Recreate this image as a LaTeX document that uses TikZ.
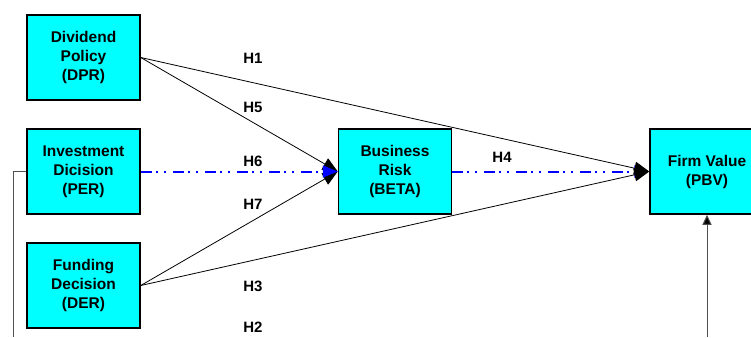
\documentclass[tikz,border=0pt]{standalone}
\usepackage{fontspec}
\setmainfont{Liberation Sans}
\usetikzlibrary{arrows.meta}
\definecolor{boxcyan}{RGB}{0,255,255}
\definecolor{linkblue}{RGB}{0,0,255}
\definecolor{sidegray}{RGB}{80,80,80}
\tikzset{
  varbox/.style={draw=black, line width=1.5pt, fill=boxcyan, minimum width=113pt, minimum height=85pt,
    inner sep=0pt, align=center, font=\fontsize{15.5}{19}\selectfont\bfseries},
  hlabel/.style={font=\fontsize{15}{18}\selectfont\bfseries, inner sep=0pt},
  blacklink/.style={draw=black, line width=0.8pt, -{Triangle[length=15pt,width=13pt]}},
  bluelink/.style={color=linkblue, line width=2pt, dash pattern=on 11pt off 4pt on 2pt off 6pt on 2pt off 7pt,
    -{Triangle[length=15pt,width=12pt,fill=linkblue]}},
  graylink/.style={draw=sidegray, line width=1pt}
}
\begin{document}
\begin{tikzpicture}[x=1pt,y=-1pt]
\useasboundingbox (0,0) rectangle (751,337);
\node[varbox] (dpr) at (83.5,57.5) {Dividend\\Policy\\(DPR)};
\node[varbox] (per) at (83.5,171.5) {Investment\\Dicision\\(PER)};
\node[varbox] (der) at (83.5,285.5) {Funding\\Decision\\(DER)};
\node[varbox] (beta) at (395,171.5) {Business\\Risk\\(BETA)};
\node[varbox, minimum width=114pt] (pbv) at (707,171.5) {Firm Value\\(PBV)};

\node[hlabel] (h1) at (253,58) {H1};
\node[hlabel] (h5) at (253,107) {H5};
\node[hlabel] (h6) at (253,161) {H6};
\node[hlabel] (h7) at (253,204) {H7};
\node[hlabel] (h3) at (253,286) {H3};
\node[hlabel] (h2) at (253,327) {H2};
\node[hlabel] (h4) at (502,157) {H4};

\coordinate (gcorner) at (13,171.5);
\coordinate (gbottom) at (13,337);
\coordinate (pbvbottom) at (707,337);

\draw[bluelink] (beta.east) -- (pbv.west);
\draw[blacklink] (dpr.east) -- (pbv.west);
\draw[blacklink] (der.east) -- (pbv.west);
\draw[blacklink] (dpr.east) -- (beta.west);
\draw[blacklink] (der.east) -- (beta.west);
\draw[bluelink] (per.east) -- (beta.west);

\draw[graylink] (per.west) -- (gcorner) -- (gbottom);
\draw[graylink, -{Triangle[length=10pt,width=9pt,fill=black]}] (pbvbottom) -- (pbv.south);
\end{tikzpicture}
\end{document}
